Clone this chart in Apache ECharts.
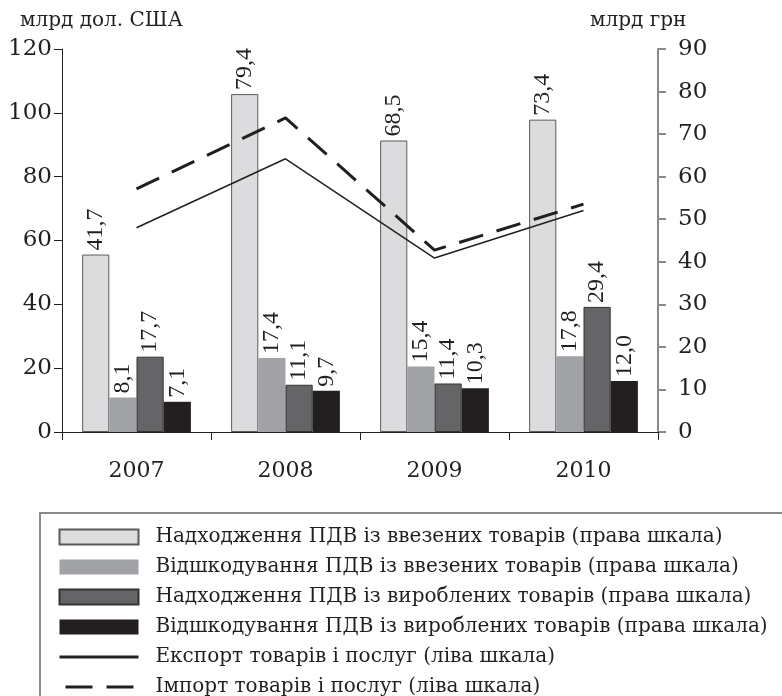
<!DOCTYPE html>
<html>
<head>
<meta charset="utf-8">
<script src="https://cdn.jsdelivr.net/npm/echarts@6/dist/echarts.min.js"></script>
<style>
  html, body { margin: 0; padding: 0; background: #fff; }
  #main { width: 782px; height: 696px; }
</style>
</head>
<body>
<div id="main"></div>
<script>
// years on x axis
var years = ['2007', '2008', '2009', '2010'];

// VAT bars, right scale (bn UAH)
var vatImportIn = [41.7, 79.4, 68.5, 73.4];
var vatImportRefund = [8.1, 17.4, 15.4, 17.8];
var vatDomesticIn = [17.7, 11.1, 11.4, 29.4];
var vatDomesticRefund = [7.1, 9.7, 10.3, 12.0];

// lines, left scale (bn USD)
var exportVals = [64.0, 85.6, 54.5, 69.4];
var importVals = [76.2, 98.4, 57.0, 71.4];

var names = [
  'Надходження ПДВ із ввезених товарів (права шкала)',
  'Відшкодування ПДВ із ввезених товарів (права шкала)',
  'Надходження ПДВ із вироблених товарів (права шкала)',
  'Відшкодування ПДВ із вироблених товарів (права шкала)',
  'Експорт товарів і послуг (ліва шкала)',
  'Імпорт товарів і послуг (ліва шкала)'
];

var serif = 'DejaVu Serif';
var ink = '#231f20';

function fmt(v) {
  return v.toFixed(1).replace('.', ',');
}

var barLabel = {
  show: true,
  position: 'top',
  rotate: 90,
  align: 'left',
  verticalAlign: 'middle',
  distance: 4,
  color: ink,
  fontFamily: 'Liberation Serif',
  fontSize: 24,
  formatter: function (p) { return fmt(p.value); }
};

function bar(name, data, fill, border) {
  return {
    name: name,
    type: 'bar',
    yAxisIndex: 1,
    data: data,
    barGap: '0%',
    barCategoryGap: '27%',
    itemStyle: {
      color: fill,
      borderColor: border || fill,
      borderWidth: border ? 1 : 0
    },
    label: barLabel,
    z: 2
  };
}

// hide the dot that echarts puts on a line legend icon
var noDot = { color: 'rgba(0,0,0,0)', borderWidth: 0, opacity: 0 };

var myChart = echarts.init(document.getElementById('main'));

var option = {
  backgroundColor: '#fff',
  animation: false,
  grid: { left: 62, right: 124, top: 49, bottom: 264 },
  legend: {
    orient: 'vertical',
    left: 53,
    top: 522,
    height: 180,
    itemWidth: 79,
    itemHeight: 15,
    itemGap: 10,
    selectedMode: false,
    textStyle: {
      fontFamily: serif,
      fontSize: 20,
      color: ink,
      padding: [0, 0, 0, 12]
    },
    data: [
      { name: names[0], icon: 'rect' },
      { name: names[1], icon: 'rect' },
      { name: names[2], icon: 'rect' },
      { name: names[3], icon: 'rect' },
      { name: names[4], itemStyle: noDot, lineStyle: { width: 3 } },
      { name: names[5], itemStyle: noDot, lineStyle: { width: 3, type: [27, 14], dashOffset: -6 } }
    ]
  },
  xAxis: {
    type: 'category',
    data: years,
    axisLine: { lineStyle: { color: ink, width: 1 } },
    axisTick: { show: true, length: 8, lineStyle: { color: ink } },
    axisLabel: { color: ink, fontFamily: serif, fontSize: 22, margin: 28 }
  },
  yAxis: [
    {
      type: 'value',
      min: 0,
      max: 120,
      interval: 20,
      name: 'млрд дол. США',
      nameLocation: 'end',
      nameGap: 18,
      nameTextStyle: {
        color: ink, fontFamily: serif, fontSize: 20,
        align: 'left', padding: [0, 0, 0, -42]
      },
      axisLine: { show: true, lineStyle: { color: ink } },
      axisTick: { show: true, length: 8, lineStyle: { color: ink } },
      axisLabel: { color: ink, fontFamily: serif, fontSize: 23, margin: 10 },
      splitLine: { show: false }
    },
    {
      type: 'value',
      min: 0,
      max: 90,
      interval: 10,
      position: 'right',
      name: 'млрд грн',
      nameLocation: 'end',
      nameGap: 18,
      nameTextStyle: {
        color: ink, fontFamily: serif, fontSize: 20,
        align: 'left', padding: [0, 0, 0, -68]
      },
      axisLine: { show: true, lineStyle: { color: '#8a8a8a', width: 2 } },
      axisTick: { show: true, length: 8, lineStyle: { color: '#8a8a8a', width: 2 } },
      axisLabel: { color: ink, fontFamily: serif, fontSize: 23, margin: 20 },
      splitLine: { show: false }
    }
  ],
  graphic: [
    {
      type: 'polyline',
      shape: { points: [[40, 700], [40, 513], [785, 513]] },
      style: { stroke: '#8a8a8a', lineWidth: 2, fill: null }
    }
  ],
  series: [
    bar(names[0], vatImportIn, '#dcdcde', '#5a5a5a'),
    bar(names[1], vatImportRefund, '#a1a2a6', null),
    bar(names[2], vatDomesticIn, '#656567', '#333333'),
    bar(names[3], vatDomesticRefund, ink, null),
    {
      name: names[4],
      type: 'line',
      yAxisIndex: 0,
      data: exportVals,
      symbol: 'none',
      lineStyle: { color: ink, width: 1.5 },
      itemStyle: { color: ink },
      z: 5
    },
    {
      name: names[5],
      type: 'line',
      yAxisIndex: 0,
      data: importVals,
      symbol: 'none',
      lineStyle: { color: ink, width: 3, type: [25, 14] },
      itemStyle: { color: ink },
      z: 5
    }
  ]
};

myChart.setOption(option);
</script>
</body>
</html>
